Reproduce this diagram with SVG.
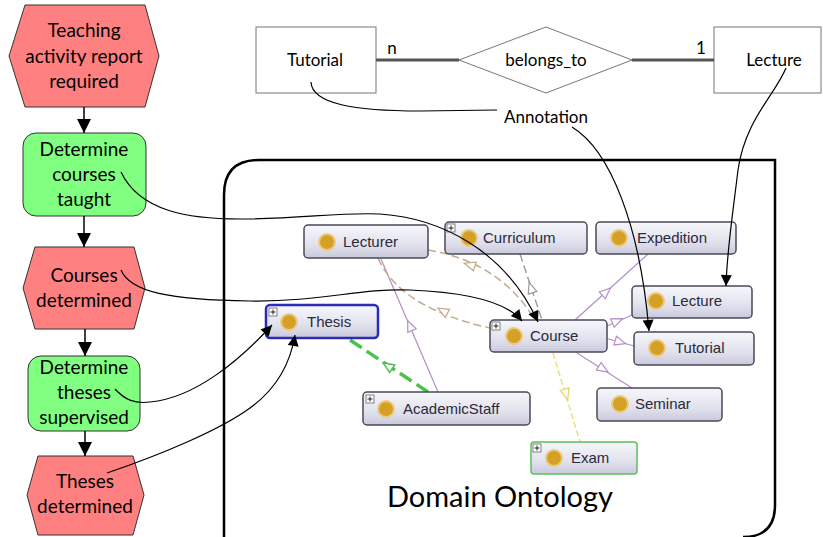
<svg xmlns="http://www.w3.org/2000/svg" xmlns:xlink="http://www.w3.org/1999/xlink" width="823" height="537" viewBox="0 0 823 537">
<defs>
<style>
.hex{fill:#FF8080;stroke:#333;stroke-width:1}
.fn{fill:#80FF80;stroke:#333;stroke-width:1}
.ft{font-family:Lato,"Liberation Sans",sans-serif;font-size:19px;fill:#000;text-anchor:middle}
.er{fill:#fff;stroke:#777;stroke-width:1}
.et{font-family:Lato,"Liberation Sans",sans-serif;font-size:17px;fill:#000}
.erl{stroke:#555;stroke-width:3;fill:none}
.flow{stroke:#000;stroke-width:1.5;fill:none}
.ann{stroke:#000;stroke-width:1.2;fill:none}
.on{fill:url(#ng);stroke:#4a4a58;stroke-width:1.5}
.ot{font-family:"Liberation Sans",Arial,sans-serif;font-size:15px;fill:#2a2a3a}
.dot{fill:#D6A027;stroke:#EBCB80;stroke-width:2}
.pb{fill:#fff;stroke:#666;stroke-width:0.8}
.pl{stroke:#222;stroke-width:1}
.pur{stroke:#B58FC8;stroke-width:1.2;fill:none}
.purt{fill:#fff;stroke:#B58FC8;stroke-width:1.2}
.tan{stroke:#C4A98A;stroke-width:1.5;fill:none;stroke-dasharray:8 4}
.tant{fill:#fff;stroke:#C4A98A;stroke-width:1.2}
.gry{stroke:#9a9a9a;stroke-width:1.4;fill:none;stroke-dasharray:8 4}
.gryt{fill:#fff;stroke:#9a9a9a;stroke-width:1.2}
.grn{stroke:#4CC04C;stroke-width:3.5;fill:none;stroke-dasharray:14 6}
.grnt{fill:#fff;stroke:#4CC04C;stroke-width:1.5}
.yel{stroke:#E8E070;stroke-width:1.4;fill:none;stroke-dasharray:6 3}
.yelt{fill:#fff;stroke:#E0D860;stroke-width:1.2}
</style>
<linearGradient id="ng" x1="0" y1="0" x2="0" y2="1">
<stop offset="0" stop-color="#F6F6FB"/>
<stop offset="0.6" stop-color="#E2E2EE"/>
<stop offset="1" stop-color="#C9C9DB"/>
</linearGradient>
<marker id="ah" viewBox="0 0 10 10" refX="10" refY="5" markerWidth="14" markerHeight="15" markerUnits="userSpaceOnUse" orient="auto"><path d="M0,0 L10,5 L0,10 z" fill="#000"/></marker>
<marker id="ah2" viewBox="0 0 10 10" refX="10" refY="5" markerWidth="14" markerHeight="11" markerUnits="userSpaceOnUse" orient="auto"><path d="M0,0 L10,5 L0,10 z" fill="#000"/></marker>
<path id="tri" d="M6,0 L-5,-4.5 L-5,4.5 z"/>
</defs>
<rect width="823" height="537" fill="#fff"/>

<!-- Domain ontology frame -->
<g id="frame">
<path d="M224,540 L224,195 Q224,160 259,160 L775,160 L775,505 Q775,537 743,537" fill="none" stroke="#000" stroke-width="2.5"/>
<text x="500" y="507" text-anchor="middle" font-family="Lato,'Liberation Sans',sans-serif" font-size="29" fill="#000">Domain Ontology</text>
</g>

<!-- ontology internal edges -->
<g id="onto-edges">
<path class="pur" d="M438,392 L381,259"/>
<use href="#tri" class="purt" transform="translate(410,326) rotate(-113)"/>
<path class="grn" d="M350,340 L428,392"/>
<use href="#tri" class="grnt" transform="translate(388,366) rotate(-146)"/>
<path class="tan" d="M428,250 Q500,262 535,320"/>
<use href="#tri" class="tant" transform="translate(470,265) rotate(-163)"/>
<path class="tan" d="M378,258 Q400,308 490,328"/>
<use href="#tri" class="tant" transform="translate(443,311) rotate(-152)"/>
<path class="gry" d="M520,254 L542,320"/>
<use href="#tri" class="gryt" transform="translate(531,288) rotate(-108)"/>
<path class="pur" d="M575,320 L648,254"/>
<use href="#tri" class="purt" transform="translate(606,292) rotate(-42)"/>
<path class="pur" d="M605,327 L632,315"/>
<use href="#tri" class="purt" transform="translate(617,321) rotate(-24)"/>
<path class="pur" d="M605,338 L634,346"/>
<use href="#tri" class="purt" transform="translate(620,342) rotate(16)"/>
<path class="pur" d="M577,353 L632,388"/>
<use href="#tri" class="purt" transform="translate(603,369) rotate(32)"/>
<path class="yel" d="M553,353 L580,442"/>
<use href="#tri" class="yelt" transform="translate(566,394) rotate(73)"/>
</g>

<!-- ontology nodes -->
<g id="o-lecturer"><rect class="on" x="304" y="225" width="124" height="33" rx="4"/><circle class="dot" cx="327" cy="242" r="8"/><text class="ot" x="343" y="247">Lecturer</text></g>
<g id="o-curriculum"><rect class="on" x="445" y="222" width="142" height="32" rx="4"/><rect class="pb" x="447" y="224" width="8" height="8"/><path class="pl" d="M448.5,228 h5 M451,225.5 v5"/><circle class="dot" cx="469" cy="238" r="8"/><text class="ot" x="483" y="243">Curriculum</text></g>
<g id="o-expedition"><rect class="on" x="596" y="222" width="140" height="32" rx="4"/><circle class="dot" cx="619" cy="238" r="8"/><text class="ot" x="637" y="243">Expedition</text></g>
<g id="o-lecture"><rect class="on" x="632" y="286" width="120" height="32" rx="4"/><circle class="dot" cx="656" cy="301" r="8"/><text class="ot" x="672" y="306">Lecture</text></g>
<g id="o-tutorial"><rect class="on" x="634" y="332" width="120" height="33" rx="4"/><circle class="dot" cx="657" cy="348" r="8"/><text class="ot" x="675" y="353">Tutorial</text></g>
<g id="o-course"><rect class="on" x="490" y="320" width="117" height="32" rx="4"/><rect class="pb" x="492" y="322" width="8" height="8"/><path class="pl" d="M493.5,326 h5 M496,323.5 v5"/><circle class="dot" cx="514" cy="336" r="8"/><text class="ot" x="530" y="341">Course</text></g>
<g id="o-thesis"><rect x="266" y="305" width="112" height="33" rx="4" fill="url(#ng)" stroke="#2B2BB8" stroke-width="2.5"/><rect class="pb" x="269" y="308" width="8" height="8"/><path class="pl" d="M270.5,312 h5 M273,309.5 v5"/><circle class="dot" cx="289" cy="322" r="8"/><text class="ot" x="307" y="327">Thesis</text></g>
<g id="o-academicstaff"><rect class="on" x="363" y="392" width="167" height="33" rx="4"/><rect class="pb" x="366" y="395" width="8" height="8"/><path class="pl" d="M367.5,399 h5 M370,396.5 v5"/><circle class="dot" cx="386" cy="409" r="8"/><text class="ot" x="403" y="414">AcademicStaff</text></g>
<g id="o-seminar"><rect class="on" x="597" y="388" width="125" height="33" rx="4"/><circle class="dot" cx="620" cy="404" r="8"/><text class="ot" x="635" y="409">Seminar</text></g>
<g id="o-exam"><rect x="531" y="442" width="106" height="32" rx="3" fill="url(#ng)" stroke="#5CC05C" stroke-width="1.5"/><rect class="pb" x="533" y="444" width="8" height="8"/><path class="pl" d="M534.5,448 h5 M537,445.5 v5"/><circle class="dot" cx="554" cy="458" r="8"/><text class="ot" x="571" y="463">Exam</text></g>

<!-- ER diagram -->
<g id="er-tutorial"><rect class="er" x="256" y="27" width="120" height="66"/><text class="et" x="315" y="66" text-anchor="middle">Tutorial</text></g>
<g id="er-belongs"><path class="er" d="M459,60 L546,27 L632,60 L546,93 z"/><text class="et" x="546" y="66" text-anchor="middle">belongs_to</text></g>
<g id="er-lecture"><rect class="er" x="714" y="27" width="107" height="66"/><text class="et" x="774" y="66" text-anchor="middle">Lecture</text></g>
<g id="annotation"><text class="et" x="546" y="123" text-anchor="middle" font-size="19">Annotation</text></g>

<!-- Flowchart -->
<g id="f-hex1"><path class="hex" d="M25,5 L145,5 L159,56 L145,107 L25,107 L9,56 z"/><text class="ft" x="84" y="37">Teaching</text><text class="ft" x="84" y="63">activity report</text><text class="ft" x="84" y="88">required</text></g>
<g id="f-fn1"><rect class="fn" x="23" y="133" width="123" height="83" rx="13"/><text class="ft" x="84" y="156">Determine</text><text class="ft" x="84" y="181">courses</text><text class="ft" x="84" y="206">taught</text></g>
<g id="f-hex2"><path class="hex" d="M35,247 L134,247 L145,288 L134,329 L35,329 L23,288 z"/><text class="ft" x="84" y="282">Courses</text><text class="ft" x="84" y="307">determined</text></g>
<g id="f-fn2"><rect class="fn" x="28" y="356" width="112" height="75" rx="13"/><text class="ft" x="84" y="374">Determine</text><text class="ft" x="84" y="399">theses</text><text class="ft" x="84" y="424">supervised</text></g>
<g id="f-hex3"><path class="hex" d="M38,456 L133,456 L144,495 L133,535 L38,535 L27,495 z"/><text class="ft" x="85" y="488">Theses</text><text class="ft" x="85" y="513">determined</text></g>

<!-- connectors -->
<g id="connectors">
<path class="flow" d="M84,107 L84,133" marker-end="url(#ah)"/>
<path class="flow" d="M84,216 L84,247" marker-end="url(#ah)"/>
<path class="flow" d="M85,329 L85,356" marker-end="url(#ah)"/>
<path class="flow" d="M85,431 L85,456" marker-end="url(#ah)"/>
<path class="erl" d="M376,60 L459,60"/>
<path class="erl" d="M632,60 L714,60"/>
<text class="et" x="392" y="54" text-anchor="middle">n</text>
<text class="et" x="701" y="54" text-anchor="middle">1</text>
<path class="ann" d="M311,82 C312,104 355,111 420,111 L497,110"/>
<path class="ann" d="M786,68 C775,95 745,120 738,170 C732,220 727,250 726,286" marker-end="url(#ah2)"/>
<path class="ann" d="M572,127 C610,150 640,225 649,331" marker-end="url(#ah2)"/>
<path class="ann" d="M121,172 C140,212 190,219 240,219 C300,219 340,212 380,214 C440,218 505,250 538,322" marker-end="url(#ah2)"/>
<path class="ann" d="M121,270 C130,292 170,300 250,301 C320,302 360,288 410,290 C460,292 505,300 522,321" marker-end="url(#ah2)"/>
<path class="ann" d="M115,389 C125,400 135,404 150,402 C195,398 240,360 272,325" marker-end="url(#ah2)"/>
<path class="ann" d="M107,473 C160,455 220,430 250,408 C275,390 290,365 295,335" marker-end="url(#ah2)"/>
</g>
</svg>
